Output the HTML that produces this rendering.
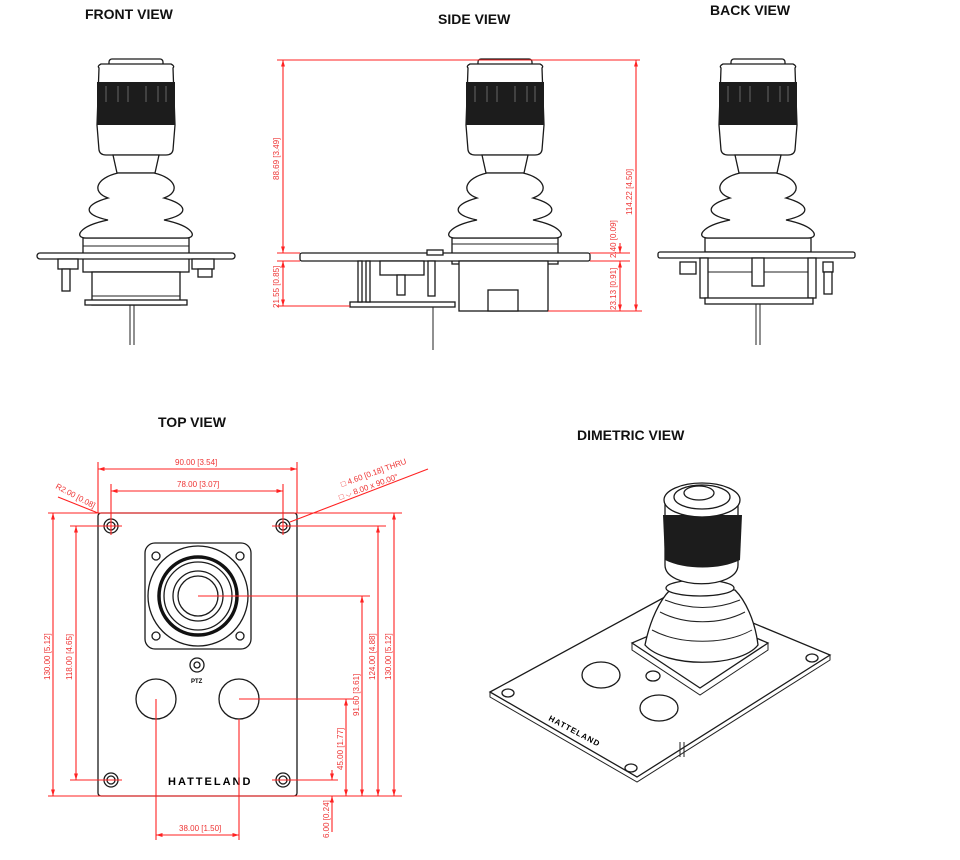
<!DOCTYPE html>
<html><head><meta charset="utf-8"><style>
html,body{margin:0;padding:0;background:#fff}
svg{display:block}
.t{font-family:"Liberation Sans",sans-serif;font-weight:bold;font-size:14px;fill:#111}
.d{font-family:"Liberation Sans",sans-serif;font-size:8px;fill:#e33}
.k{fill:#fff;stroke:#1a1a1a;stroke-width:1.3}
.r{stroke:#f22;stroke-width:1.1;fill:none}
</style></head><body>
<svg width="960" height="860" viewBox="0 0 960 860" xmlns="http://www.w3.org/2000/svg">
<defs>
<marker id="a" viewBox="0 0 10 10" refX="10" refY="5" markerWidth="6" markerHeight="6" orient="auto-start-reverse"><path d="M0 2L10 5L0 8z" fill="#f22"/></marker>
<g id="stick">
  <rect x="-27" y="59" width="54" height="9" rx="3" class="k"/>
  <path d="M-37 68 Q-39 66 -35 64 L35 64 Q39 66 37 68 L39 125 L37 150 Q36 155 30 155 L-30 155 Q-36 155 -37 150 L-39 125Z" class="k"/>
  <rect x="-39" y="82" width="78" height="43" fill="#1c1c1c"/>
  <g stroke="#666" stroke-width="1"><line x1="-30" y1="86" x2="-30" y2="102"/><line x1="-18" y1="86" x2="-18" y2="102"/><line x1="-8" y1="86" x2="-8" y2="102"/><line x1="10" y1="86" x2="10" y2="102"/><line x1="22" y1="86" x2="22" y2="102"/><line x1="30" y1="86" x2="30" y2="102"/></g>
  <path d="M-23 155 L-19 173 L19 173 L23 155Z" class="k"/>
  <path d="M-18 173 C-40 178,-45 192,-28 198 C-50 204,-56 214,-28 220 C-58 226,-62 238,-50 238 L50 238 C62 238,58 226,28 220 C56 214,50 204,28 198 C45 192,40 178,18 173Z" class="k"/>
</g>
</defs>

<text class="t" x="85" y="19">FRONT VIEW</text>
<text class="t" x="438" y="24">SIDE VIEW</text>
<text class="t" x="710" y="15">BACK VIEW</text>
<text class="t" x="158" y="427">TOP VIEW</text>
<text class="t" x="577" y="440">DIMETRIC VIEW</text>

<!-- FRONT -->
<g>
  <rect x="83" y="238" width="106" height="34" class="k"/>
  <line x1="83" y1="246" x2="189" y2="246" stroke="#222"/>
  <rect x="37" y="253" width="198" height="6" rx="3" class="k"/>
  <rect x="92" y="272" width="88" height="33" class="k"/>
  <line x1="92" y1="296" x2="180" y2="296" stroke="#222"/>
  <rect x="85" y="300" width="102" height="5" class="k"/>
  <rect x="58" y="259" width="20" height="10" class="k"/>
  <rect x="62" y="269" width="8" height="22" class="k"/>
  <rect x="192" y="259" width="22" height="10" class="k"/>
  <rect x="198" y="269" width="14" height="8" class="k"/>
  <line x1="130" y1="305" x2="130" y2="345" stroke="#222"/><line x1="134" y1="305" x2="134" y2="345" stroke="#222"/>
  <use href="#stick" x="136"/>
</g>

<!-- SIDE -->
<g>
  <rect x="452" y="238" width="106" height="26" class="k"/>
  <line x1="452" y1="244" x2="558" y2="244" stroke="#222"/>
  <rect x="300" y="253" width="290" height="8" rx="2" class="k"/>
  <rect x="427" y="250" width="16" height="5" class="k"/>
  <rect x="459" y="261" width="89" height="50" class="k"/>
  <rect x="488" y="290" width="30" height="21" class="k"/>
  <rect x="350" y="302" width="105" height="5" class="k"/>
  <rect x="358" y="261" width="4" height="41" class="k"/><rect x="366" y="261" width="4" height="41" class="k"/>
  <rect x="380" y="261" width="44" height="14" class="k"/>
  <rect x="397" y="275" width="8" height="20" class="k"/>
  <rect x="428" y="261" width="7" height="35" class="k"/>
  <line x1="433" y1="307" x2="433" y2="350" stroke="#222"/>
  <use href="#stick" x="505"/>
  <line x1="277" y1="60" x2="640" y2="60" class="r"/>
  <line x1="277" y1="253" x2="300" y2="253" class="r"/>
  <line x1="277" y1="261" x2="300" y2="261" class="r"/>
  <line x1="277" y1="306" x2="350" y2="306" class="r"/>
  <line x1="548" y1="311" x2="642" y2="311" class="r"/>
  <line x1="590" y1="253" x2="630" y2="253" class="r"/>
  <line x1="590" y1="261" x2="630" y2="261" class="r"/>
  <line x1="283" y1="60" x2="283" y2="253" class="r" marker-start="url(#a)" marker-end="url(#a)"/>
  <line x1="283" y1="261" x2="283" y2="306" class="r" marker-start="url(#a)" marker-end="url(#a)"/>
  <line x1="636" y1="60" x2="636" y2="311" class="r" marker-start="url(#a)" marker-end="url(#a)"/>
  <line x1="620" y1="261" x2="620" y2="311" class="r" marker-start="url(#a)" marker-end="url(#a)"/>
  <line x1="620" y1="243" x2="620" y2="253" class="r" marker-end="url(#a)"/>
  <text class="d" transform="translate(279,180) rotate(-90)">88.69 [3.49]</text>
  <text class="d" transform="translate(279,308) rotate(-90)">21.55 [0.85]</text>
  <text class="d" transform="translate(632,215) rotate(-90)">114.22 [4.50]</text>
  <text class="d" transform="translate(616,310) rotate(-90)">23.13 [0.91]</text>
  <text class="d" transform="translate(616,258) rotate(-90)">2.40 [0.09]</text>
</g>

<!-- BACK -->
<g>
  <rect x="705" y="238" width="106" height="14" class="k"/>
  <rect x="658" y="252" width="197" height="6" rx="2" class="k"/>
  <rect x="700" y="258" width="8" height="40" class="k"/><rect x="808" y="258" width="8" height="40" class="k"/>
  <rect x="705" y="298" width="108" height="6" class="k"/>
  <rect x="680" y="262" width="16" height="12" class="k"/>
  <rect x="823" y="262" width="10" height="10" class="k"/><rect x="824" y="272" width="8" height="22" class="k"/>
  <line x1="708" y1="272" x2="808" y2="272" stroke="#222"/>
  <rect x="752" y="258" width="12" height="28" class="k"/>
  <line x1="756" y1="304" x2="756" y2="345" stroke="#222"/><line x1="760" y1="304" x2="760" y2="345" stroke="#222"/>
  <use href="#stick" x="758"/>
</g>

<!-- TOP VIEW -->
<g>
  <rect x="98" y="513" width="199" height="283" rx="3" class="k"/>
  <g class="k">
    <circle cx="111" cy="526" r="7"/><circle cx="111" cy="526" r="4"/>
    <circle cx="283" cy="526" r="7"/><circle cx="283" cy="526" r="4"/>
    <circle cx="111" cy="780" r="7"/><circle cx="111" cy="780" r="4"/>
    <circle cx="283" cy="780" r="7"/><circle cx="283" cy="780" r="4"/>
  </g>
  <rect x="145" y="543" width="106" height="106" rx="10" class="k"/>
  <circle cx="156" cy="556" r="4" class="k"/><circle cx="240" cy="556" r="4" class="k"/>
  <circle cx="156" cy="636" r="4" class="k"/><circle cx="240" cy="636" r="4" class="k"/>
  <circle cx="198" cy="596" r="50" class="k"/>
  <circle cx="198" cy="596" r="39" fill="none" stroke="#111" stroke-width="3.5"/>
  <circle cx="198" cy="596" r="34" class="k"/>
  <circle cx="198" cy="596" r="25" class="k"/>
  <circle cx="198" cy="596" r="20" class="k"/>
  <circle cx="197" cy="665" r="7" class="k"/><circle cx="197" cy="665" r="3" class="k"/>
  <text x="191" y="683" style="font-family:'Liberation Sans';font-size:6px;font-weight:bold">PTZ</text>
  <circle cx="156" cy="699" r="20" class="k" stroke-width="1.6"/>
  <circle cx="239" cy="699" r="20" class="k" stroke-width="1.6"/>
  <text x="168" y="785" style="font-family:'Liberation Sans';font-size:11px;font-weight:bold;letter-spacing:2px">HATTELAND</text>
  <g class="r">
    <line x1="98" y1="462" x2="98" y2="513"/><line x1="297" y1="462" x2="297" y2="513"/>
    <line x1="111" y1="484" x2="111" y2="535"/><line x1="283" y1="484" x2="283" y2="535"/>
    <line x1="48" y1="513" x2="402" y2="513"/><line x1="48" y1="796" x2="402" y2="796"/>
    <line x1="70" y1="526" x2="122" y2="526"/><line x1="70" y1="780" x2="122" y2="780"/>
    <line x1="272" y1="526" x2="386" y2="526"/><line x1="272" y1="780" x2="338" y2="780"/>
    <line x1="198" y1="596" x2="370" y2="596"/><line x1="239" y1="699" x2="354" y2="699"/>
    <line x1="156" y1="699" x2="156" y2="840"/><line x1="239" y1="719" x2="239" y2="840"/>
    <line x1="58" y1="497" x2="98" y2="513"/>
    <line x1="290" y1="522" x2="428" y2="469"/>
  </g>
  <line x1="98" y1="469" x2="297" y2="469" class="r" marker-start="url(#a)" marker-end="url(#a)"/>
  <line x1="111" y1="491" x2="283" y2="491" class="r" marker-start="url(#a)" marker-end="url(#a)"/>
  <line x1="53" y1="513" x2="53" y2="796" class="r" marker-start="url(#a)" marker-end="url(#a)"/>
  <line x1="76" y1="526" x2="76" y2="780" class="r" marker-start="url(#a)" marker-end="url(#a)"/>
  <line x1="394" y1="513" x2="394" y2="796" class="r" marker-start="url(#a)" marker-end="url(#a)"/>
  <line x1="378" y1="526" x2="378" y2="796" class="r" marker-start="url(#a)" marker-end="url(#a)"/>
  <line x1="362" y1="596" x2="362" y2="796" class="r" marker-start="url(#a)" marker-end="url(#a)"/>
  <line x1="346" y1="699" x2="346" y2="796" class="r" marker-start="url(#a)" marker-end="url(#a)"/>
  <line x1="332" y1="770" x2="332" y2="780" class="r" marker-end="url(#a)"/>
  <line x1="332" y1="806" x2="332" y2="796" class="r" marker-end="url(#a)"/>
  <line x1="332" y1="806" x2="332" y2="832" class="r"/>
  <line x1="156" y1="835" x2="239" y2="835" class="r" marker-start="url(#a)" marker-end="url(#a)"/>
  <text class="d" x="175" y="465">90.00 [3.54]</text>
  <text class="d" x="177" y="487">78.00 [3.07]</text>
  <text class="d" x="179" y="831">38.00 [1.50]</text>
  <text class="d" transform="translate(55,488) rotate(28)">R2.00 [0.08]</text>
  <text class="d" transform="translate(342,487) rotate(-20)">□ 4.60 [0.18] THRU</text>
  <text class="d" transform="translate(340,500) rotate(-20)">□ ⌵ 8.00 x 90.00°</text>
  <text class="d" transform="translate(50,680) rotate(-90)">130.00 [5.12]</text>
  <text class="d" transform="translate(72,680) rotate(-90)">118.00 [4.65]</text>
  <text class="d" transform="translate(391,680) rotate(-90)">130.00 [5.12]</text>
  <text class="d" transform="translate(375,680) rotate(-90)">124.00 [4.88]</text>
  <text class="d" transform="translate(359,716) rotate(-90)">91.60 [3.61]</text>
  <text class="d" transform="translate(343,770) rotate(-90)">45.00 [1.77]</text>
  <text class="d" transform="translate(329,838) rotate(-90)">6.00 [0.24]</text>
</g>

<!-- DIMETRIC -->
<g>
  <path d="M490 692 L676 591 L830 655 L637 777Z" class="k" stroke-width="1.4"/>
  <path d="M490 692 L490 697 L637 782 L830 660 L830 655" fill="none" stroke="#222"/>
  <ellipse cx="508" cy="693" rx="6" ry="4" class="k"/>
  <ellipse cx="631" cy="768" rx="6" ry="4" class="k"/>
  <ellipse cx="812" cy="658" rx="6" ry="4" class="k"/>
  <ellipse cx="601" cy="675" rx="19" ry="13" class="k" stroke-width="1.6"/>
  <ellipse cx="659" cy="708" rx="19" ry="13" class="k" stroke-width="1.6"/>
  <ellipse cx="653" cy="676" rx="7" ry="5" class="k"/>
  <text transform="translate(548,720) rotate(28)" style="font-family:'Liberation Sans';font-size:8px;font-weight:bold;letter-spacing:1px">HATTELAND</text>
  <line x1="680" y1="742" x2="680" y2="757" stroke="#222"/><line x1="684" y1="742" x2="684" y2="757" stroke="#222"/>
  <path d="M632 643 L700 614 L768 643 L700 688Z" class="k"/>
  <path d="M632 643 L632 650 L700 695 L768 650 L768 643" fill="none" stroke="#222"/>
  <path d="M645 645 C650 620,660 600,670 590 L735 590 C745 600,755 620,758 645 C740 668,665 668,645 645Z" class="k"/>
  <path d="M652 630 C680 645,725 645,752 630 M660 612 C685 625,720 625,745 612 M665 600 C690 610,715 610,740 600" fill="none" stroke="#222"/>
  <ellipse cx="700" cy="588" rx="34" ry="8" class="k"/>
  <path d="M665 500 L665 565 C665 590,738 590,738 565 L738 500Z" class="k"/>
  <path d="M663 515 L742 515 L740 560 C720 570,685 570,665 560Z" fill="#1c1c1c"/>
  <ellipse cx="702" cy="500" rx="38" ry="17" class="k"/>
  <ellipse cx="702" cy="497" rx="28" ry="12" class="k"/>
  <ellipse cx="699" cy="493" rx="15" ry="7" class="k"/>
</g>
</svg>
</body></html>
